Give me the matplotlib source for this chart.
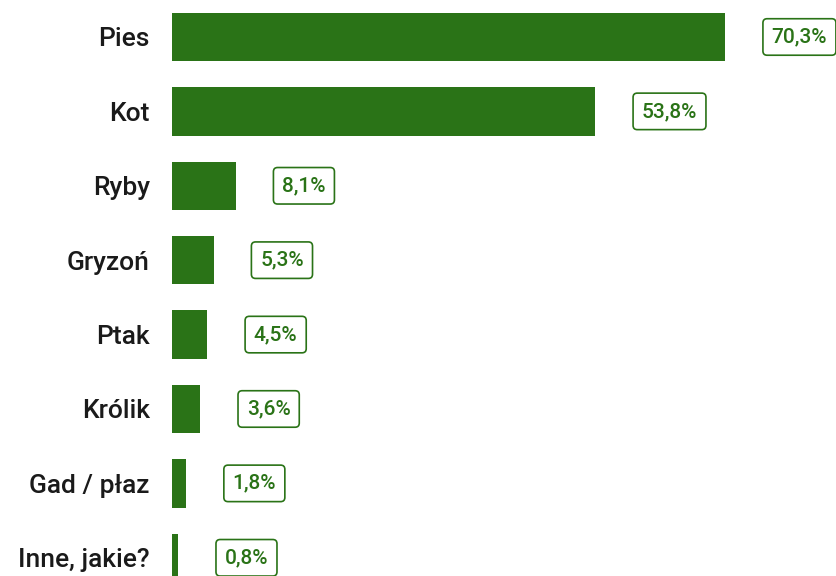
import matplotlib
matplotlib.use('Agg')
import matplotlib.pyplot as plt

categories = ['Pies', 'Kot', 'Ryby', 'Gryzoń', 'Ptak', 'Królik', 'Gad / płaz', 'Inne, jakie?']
values = [70.3, 53.8, 8.1, 5.3, 4.5, 3.6, 1.8, 0.8]
value_labels = ['70,3%', '53,8%', '8,1%', '5,3%', '4,5%', '3,6%', '1,8%', '0,8%']

green = '#2a7317'
plt.rcParams['font.family'] = ['Roboto', 'DejaVu Sans']

fig = plt.figure(figsize=(8.37, 5.76), dpi=100)
ax = fig.add_axes([172 / 837, 0, 1 - 172 / 837, 1])

pos = list(range(len(categories)))
ax.barh(pos, values, height=0.65, color=green)

for p, v, lab in zip(pos, values, value_labels):
    ax.text(v + 5.9, p, lab, ha='left', va='center', fontsize=15,
            color=green, fontweight='medium',
            bbox=dict(boxstyle='round,pad=0.42,rounding_size=0.2',
                      facecolor='white', edgecolor=green, linewidth=1.2))

ax.set_yticks(pos)
ax.set_yticklabels(categories, fontsize=19, color='#1a1a1a', fontweight='medium')
ax.tick_params(axis='y', length=0, pad=16)
ax.set_xticks([])
ax.set_xlim(0, 84.5)
ax.set_ylim(7.245, -0.497)
for s in ax.spines.values():
    s.set_visible(False)

fig.savefig('out.png', dpi=100)
